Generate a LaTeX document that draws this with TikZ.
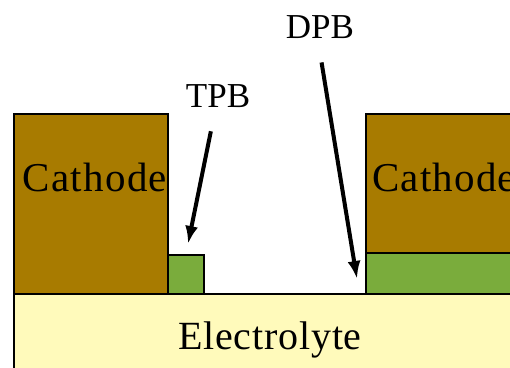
\documentclass[tikz,border=0pt]{standalone}
\usepackage{fontspec}
\setmainfont{Liberation Serif}
\usetikzlibrary{arrows.meta}
\definecolor{cathodecol}{RGB}{168,123,0}
\definecolor{tpbcol}{RGB}{122,172,60}
\definecolor{electcol}{RGB}{255,250,187}
\tikzset{
  layer/.style={draw=black,line width=2.5pt},
  pointer/.style={-{Latex[length=18pt,width=13pt]},line width=4pt},
  biglabel/.style={font=\fontsize{41}{48}\selectfont\addfontfeature{LetterSpace=3},inner sep=0pt},
  tagtext/.style={font=\fontsize{35}{40}\selectfont,inner sep=2pt}
}
\begin{document}
\begin{tikzpicture}[x=1pt,y=-1pt]
  \useasboundingbox (0,0) rectangle (510,367);
  \clip (0,0) rectangle (510,367);
  % electrolyte
  \fill[electcol] (14,294) rectangle (530,390);
  \draw[line width=2.5pt] (14,390) -- (14,294) -- (530,294);
  % cathodes and boundary layers
  \draw[layer,fill=cathodecol] (14,114) rectangle (168,294);
  \draw[layer,fill=tpbcol] (168,255) rectangle (204,294);
  \draw[layer,fill=cathodecol] (366,114) rectangle (530,253);
  \draw[layer,fill=tpbcol] (366,253) rectangle (530,294);
  \node[biglabel,anchor=base] (cathl) at (95,191) {Cathode};
  \node[biglabel,anchor=base west] (cathr) at (372,191) {Cathode};
  \node[biglabel,anchor=base,font=\fontsize{40}{48}\selectfont\addfontfeature{LetterSpace=2}] (elec) at (270,349) {Electrolyte};
  % labels
  \node[tagtext] (tpb) at (218,96) {TPB};
  \node[tagtext] (dpb) at (320,27) {DPB};
  \coordinate (tpbtip) at (188,244);
  \coordinate (dpbtip) at (357,279);
  \draw[pointer,shorten <=22pt] (tpb) -- (tpbtip);
  \draw[pointer,shorten <=22pt] (dpb.south) ++(-2,0) -- (dpbtip);
\end{tikzpicture}
\end{document}
